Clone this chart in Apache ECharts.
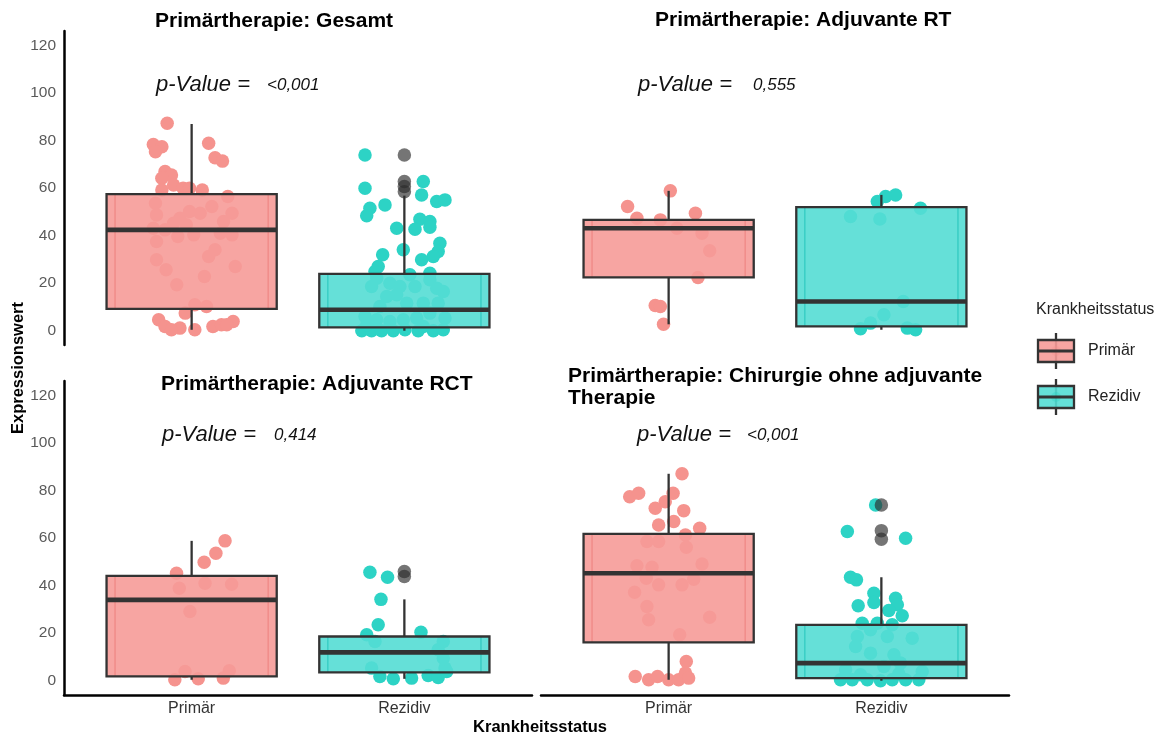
<!DOCTYPE html>
<html>
<head>
<meta charset="utf-8">
<script src="https://cdn.jsdelivr.net/npm/echarts@6/dist/echarts.min.js"></script>
<style>
  html, body { margin: 0; padding: 0; background: #ffffff; }
  #chart { width: 1164px; height: 736px; }
</style>
</head>
<body>
<div id="chart"></div>
<script>
// ---- categories, titles, ticks -------------------------------------------
const categories = ['Primär', 'Rezidiv'];
const panelTitles = [
  ['Primärtherapie: Gesamt'],
  ['Primärtherapie: Adjuvante RT'],
  ['Primärtherapie: Adjuvante RCT'],
  ['Primärtherapie: Chirurgie ohne adjuvante', 'Therapie']
];
const pValues = ['<0,001', '0,555', '0,414', '<0,001'];
const yTicks = [0, 20, 40, 60, 80, 100, 120];

// ---- box summaries: [lower whisker, Q1, median, Q3, upper whisker] --------
const boxGesamt = [[0.4, 9.2, 42.4, 57.4, 86.9], [0.0, 1.4, 8.8, 23.9, 56.8]];
const boxRT     = [[2.7, 22.4, 43.1, 46.6, 58.8], [0.4, 1.8, 12.3, 52.0, 57.1]];
const boxRCT    = [[0.4, 1.8, 34.0, 44.1, 58.8], [0.8, 3.5, 11.9, 18.6, 34.2]];
const boxChir   = [[0.4, 16.1, 45.2, 61.7, 87.0], [0.0, 1.1, 7.4, 23.5, 43.5]];

// ---- outliers (beyond 1.5 IQR) ---------------------------------------------
const outGesamt = [[], [58.4, 60.6, 62.7, 73.9]];
const outRT     = [[], []];
const outRCT    = [[], [43.8, 45.9]];
const outChir   = [[], [59.5, 63.1, 73.9]];

// ---- observations: [horizontal jitter, Expressionswert] ---------------------
const gesamtPrimaer = [
  [-0.115, 87.2], [-0.18, 78.3], [-0.14, 77.3], [-0.17, 75.2], [0.08, 78.8], [0.11, 72.7],
  [0.145, 71.3], [-0.125, 66.9], [-0.095, 65.5], [-0.14, 64.1], [-0.085, 61.3], [-0.14, 59.2],
  [-0.04, 59.9], [-0.01, 59.9], [0.05, 59.2], [0.17, 56.4], [-0.17, 53.6], [0.095, 52.2],
  [-0.165, 48.7], [-0.01, 50.1], [0.04, 49.4], [-0.055, 47.3], [0.19, 49.4], [0.15, 45.9],
  [-0.085, 45.2], [-0.025, 44.5], [-0.18, 43.1], [-0.125, 42.4], [-0.065, 39.6], [0.01, 40.3],
  [0.135, 41.0], [0.19, 40.3], [-0.165, 37.5], [0.08, 31.2], [0.11, 34.0], [-0.165, 29.8],
  [-0.12, 25.6], [0.205, 27.0], [0.06, 22.8], [-0.07, 19.3], [0.015, 10.9], [0.07, 10.2],
  [-0.03, 7.4], [-0.155, 4.6], [-0.125, 1.8], [-0.055, 1.1], [-0.095, 0.4], [0.015, 0.4],
  [0.1, 1.8], [0.14, 2.5], [0.195, 3.9], [0.165, 2.5]
];
const gesamtRezidiv = [
  [-0.185, 73.9], [-0.185, 59.9], [0.089, 62.7], [0.081, 57.1], [0.152, 54.3], [0.191, 55.0],
  [-0.091, 52.9], [-0.162, 51.5], [-0.177, 48.3], [0.073, 46.9], [0.12, 45.9], [0.05, 42.7],
  [-0.036, 43.1], [0.12, 43.5], [0.167, 36.8], [0.159, 33.3], [0.136, 31.2], [-0.005, 34.0],
  [-0.102, 31.9], [0.081, 29.8], [-0.123, 27.0], [-0.138, 24.9], [0.12, 24.2], [-0.13, 22.1],
  [0.12, 21.4], [0.026, 23.5], [-0.154, 18.6], [-0.068, 20.0], [-0.021, 18.6], [0.05, 18.6],
  [0.152, 17.9], [0.183, 16.5], [-0.083, 14.4], [-0.036, 15.1], [-0.115, 10.2], [0.011, 11.6],
  [0.089, 11.6], [0.159, 11.6], [-0.185, 6.0], [-0.13, 4.6], [-0.068, 3.9], [-0.005, 4.6],
  [0.058, 5.3], [0.12, 7.4], [0.191, 5.3], [-0.2, 0.0], [-0.154, 0.0], [-0.107, 0.0],
  [-0.052, 0.0], [0.003, 0.4], [0.065, 0.0], [0.136, 0.0], [0.183, 0.4], [-0.177, 2.5],
  [0.089, 1.8]
];
const rtPrimaer = [
  [0.008, 58.8], [-0.193, 52.2], [-0.149, 47.3], [-0.039, 46.6], [0.126, 49.4], [0.039, 43.1],
  [0.157, 41.0], [0.193, 33.6], [0.138, 22.4], [-0.063, 10.6], [-0.039, 10.2], [-0.024, 2.7]
];
const rtRezidiv = [
  [-0.019, 54.3], [0.02, 56.4], [0.067, 57.1], [0.184, 51.5], [-0.145, 48.0], [-0.007, 47.0],
  [0.103, 12.3], [0.012, 6.7], [-0.098, 0.8], [-0.051, 3.2], [0.122, 1.1], [0.161, 0.4]
];
const rctPrimaer = [
  [0.157, 58.8], [0.114, 53.6], [0.059, 49.8], [-0.071, 45.2], [-0.058, 38.9], [0.063, 41.0],
  [0.188, 40.6], [-0.008, 29.1], [-0.031, 3.9], [-0.079, 0.4], [0.031, 0.8], [0.149, 1.1],
  [0.177, 4.2]
];
const rctRezidiv = [
  [-0.162, 45.6], [-0.079, 43.5], [-0.11, 34.2], [-0.123, 23.5], [-0.177, 19.3], [-0.138, 16.5],
  [0.078, 20.4], [0.183, 16.5], [0.159, 13.0], [0.183, 9.5], [0.191, 5.3], [-0.154, 5.3],
  [-0.115, 1.8], [-0.052, 0.8], [0.034, 1.1], [0.112, 2.2], [0.159, 1.4], [0.199, 3.9]
];
const chirPrimaer = [
  [0.063, 87.0], [-0.183, 77.3], [-0.141, 78.8], [0.021, 78.8], [-0.016, 75.2], [-0.063, 72.5],
  [0.071, 71.5], [0.024, 66.9], [-0.047, 65.5], [0.146, 64.1], [0.079, 61.3], [-0.102, 58.5],
  [-0.047, 58.5], [0.083, 56.1], [0.157, 49.1], [-0.149, 48.3], [-0.078, 47.7], [-0.105, 43.1],
  [-0.047, 40.3], [0.063, 40.3], [0.118, 42.7], [-0.16, 37.2], [-0.102, 31.2], [-0.094, 25.6],
  [0.193, 26.7], [0.052, 19.3], [0.083, 8.1], [-0.157, 1.8], [-0.094, 0.4], [-0.052, 1.8],
  [0.0, 0.4], [0.047, 0.4], [0.079, 3.2], [0.094, 1.1]
];
const chirRezidiv = [
  [-0.027, 73.9], [-0.16, 62.7], [0.114, 59.9], [-0.145, 43.5], [-0.117, 42.4], [-0.035, 36.8],
  [0.067, 34.7], [0.075, 31.9], [-0.109, 31.5], [-0.035, 32.9], [0.035, 29.5], [0.098, 27.3],
  [-0.09, 24.2], [-0.019, 24.2], [0.051, 23.5], [0.145, 17.9], [-0.113, 18.6], [-0.121, 14.4],
  [-0.051, 11.6], [0.059, 10.9], [-0.168, 4.6], [0.012, 6.0], [0.09, 7.4], [-0.192, 0.4],
  [-0.137, 0.4], [-0.066, 0.4], [-0.004, 0.0], [0.051, 0.4], [0.114, 0.4], [0.176, 0.4],
  [0.192, 3.9], [-0.098, 2.5], [0.082, 2.9], [-0.051, 21.4], [0.028, 18.6]
];

// ---- styling -------------------------------------------------------------
const pointColor = ['#F5938E', '#2DD3C5'];
const boxFill = ['rgba(246,155,152,0.9)', 'rgba(84,221,212,0.9)'];
const innerLine = ['rgba(236,120,116,0.5)', 'rgba(20,190,180,0.5)'];
const dark = '#333333';
const pointSize = 13.5;

const panels = [
  { box: boxGesamt, out: outGesamt, pts: [gesamtPrimaer, gesamtRezidiv], left: 64,  top: 31,  yAxis: true,  xAxis: false },
  { box: boxRT,     out: outRT,     pts: [rtPrimaer, rtRezidiv],         left: 541, top: 31,  yAxis: false, xAxis: false },
  { box: boxRCT,    out: outRCT,    pts: [rctPrimaer, rctRezidiv],       left: 64,  top: 381, yAxis: true,  xAxis: true },
  { box: boxChir,   out: outChir,   pts: [chirPrimaer, chirRezidiv],     left: 541, top: 381, yAxis: false, xAxis: true }
];

function renderBox(params, api) {
  const x = api.value(0);
  const lo = api.coord([x, api.value(1)]);
  const q1 = api.coord([x, api.value(2)]);
  const md = api.coord([x, api.value(3)]);
  const q3 = api.coord([x, api.value(4)]);
  const hi = api.coord([x, api.value(5)]);
  const cx = lo[0];
  const w = api.size([0.8, 0])[0];
  const wi = api.size([0.72, 0])[0];
  const k = params.dataIndex;
  const lw = 2.3;
  return {
    type: 'group',
    children: [
      { type: 'line', shape: { x1: cx, y1: q3[1], x2: cx, y2: hi[1] }, style: { stroke: dark, lineWidth: lw } },
      { type: 'line', shape: { x1: cx, y1: q1[1], x2: cx, y2: lo[1] }, style: { stroke: dark, lineWidth: lw } },
      { type: 'rect', shape: { x: cx - w / 2, y: q3[1], width: w, height: q1[1] - q3[1] },
        style: { fill: boxFill[k], stroke: null } },
      { type: 'line', shape: { x1: cx - wi / 2, y1: q3[1], x2: cx - wi / 2, y2: q1[1] }, style: { stroke: innerLine[k], lineWidth: 1.6 } },
      { type: 'line', shape: { x1: cx + wi / 2, y1: q3[1], x2: cx + wi / 2, y2: q1[1] }, style: { stroke: innerLine[k], lineWidth: 1.6 } },
      { type: 'rect', shape: { x: cx - w / 2, y: q3[1], width: w, height: q1[1] - q3[1] },
        style: { fill: null, stroke: dark, lineWidth: lw } },
      { type: 'line', shape: { x1: cx - w / 2, y1: md[1], x2: cx + w / 2, y2: md[1] }, style: { stroke: dark, lineWidth: 4.6 } }
    ]
  };
}

const grid = [], xAxis = [], yAxis = [], series = [];
panels.forEach((p, i) => {
  grid.push({ left: p.left, top: p.top, width: 468, height: 314 });
  xAxis.push({
    type: 'value', gridIndex: i, min: 0.4, max: 2.6,
    axisLine: { show: p.xAxis, onZero: false, lineStyle: { color: '#000', width: 2.5 } },
    axisTick: { show: false }, splitLine: { show: false },
    axisLabel: {
      show: p.xAxis, customValues: [1, 2], margin: 6,
      formatter: v => categories[Math.round(v) - 1] || '',
      color: '#333', fontSize: 16, fontFamily: 'Liberation Sans, Arial, sans-serif'
    }
  });
  yAxis.push({
    type: 'value', gridIndex: i, min: -6, max: 126,
    axisLine: { show: p.yAxis, onZero: false, lineStyle: { color: '#000', width: 2.5 } },
    axisTick: { show: false }, splitLine: { show: false },
    axisLabel: {
      show: p.yAxis, customValues: yTicks, margin: 8,
      color: '#5a5a5a', fontSize: 15.5, fontFamily: 'Liberation Sans, Arial, sans-serif'
    }
  });
  p.pts.forEach((grp, k) => {
    series.push({
      type: 'scatter', xAxisIndex: i, yAxisIndex: i, z: 2, silent: true,
      symbolSize: pointSize,
      itemStyle: { color: pointColor[k], opacity: 1 },
      data: grp.map(([j, v]) => [k + 1 + j, v])
    });
  });
  series.push({
    type: 'custom', xAxisIndex: i, yAxisIndex: i, z: 3, silent: true,
    renderItem: renderBox,
    encode: { x: 0, y: [1, 2, 3, 4, 5] },
    data: p.box.map((b, k) => [k + 1].concat(b))
  });
  const outs = [];
  p.out.forEach((vals, k) => vals.forEach(v => outs.push([k + 1, v])));
  series.push({
    type: 'scatter', xAxisIndex: i, yAxisIndex: i, z: 4, silent: true,
    symbolSize: pointSize,
    itemStyle: { color: 'rgba(45,45,45,0.82)' },
    data: outs
  });
});

// ---- texts: panel titles, p-values, axis titles, legend ------------------
const font = 'Liberation Sans, Arial, sans-serif';
const graphic = [];
const titlePos = [[155, [21]], [655, [20]], [161, [384]], [568, [376, 398]]];
panelTitles.forEach((lines, i) => {
  lines.forEach((t, li) => {
    graphic.push({ type: 'text', x: titlePos[i][0], y: titlePos[i][1][li],
      style: { text: t, font: 'bold 21px ' + font, fill: '#000', textVerticalAlign: 'middle' } });
  });
});
const pPos = [[156, 267, 85], [638, 753, 85], [162, 274, 435], [637, 747, 435]];
pValues.forEach((pv, i) => {
  const [xl, xv, yc] = pPos[i];
  graphic.push({ type: 'text', x: xl, y: yc,
    style: { text: 'p-Value =', font: 'italic 22px ' + font, fill: '#111', textVerticalAlign: 'middle' } });
  graphic.push({ type: 'text', x: xv, y: yc,
    style: { text: pv, font: 'italic 17px ' + font, fill: '#111', textVerticalAlign: 'middle' } });
});
graphic.push({ type: 'text', x: 18, y: 368, rotation: Math.PI / 2,
  style: { text: 'Expressionswert', font: 'bold 16.5px ' + font, fill: '#000',
    textAlign: 'center', textVerticalAlign: 'middle' } });
graphic.push({ type: 'text', x: 540, y: 727,
  style: { text: 'Krankheitsstatus', font: 'bold 16.5px ' + font, fill: '#000',
    textAlign: 'center', textVerticalAlign: 'middle' } });

// legend
graphic.push({ type: 'text', x: 1036, y: 310,
  style: { text: 'Krankheitsstatus', font: '16px ' + font, fill: '#222', textVerticalAlign: 'middle' } });
const legendY = [351, 397];
categories.forEach((c, k) => {
  const yc = legendY[k];
  graphic.push({ type: 'line', shape: { x1: 1056, y1: yc - 18, x2: 1056, y2: yc + 18 },
    style: { stroke: dark, lineWidth: 2.3 } });
  graphic.push({ type: 'rect', shape: { x: 1038, y: yc - 11, width: 36, height: 22 },
    style: { fill: boxFill[k], stroke: dark, lineWidth: 2.3 } });
  graphic.push({ type: 'circle', shape: { cx: 1056, cy: yc, r: 5 },
    style: { fill: pointColor[k], opacity: 0.35 } });
  graphic.push({ type: 'line', shape: { x1: 1038, y1: yc, x2: 1074, y2: yc },
    style: { stroke: dark, lineWidth: 3 } });
  graphic.push({ type: 'text', x: 1088, y: yc,
    style: { text: c, font: '16px ' + font, fill: '#222', textVerticalAlign: 'middle' } });
});

const chart = echarts.init(document.getElementById('chart'), null, { renderer: 'canvas' });
chart.setOption({
  backgroundColor: '#ffffff',
  animation: false,
  grid, xAxis, yAxis, series, graphic
});
</script>
</body>
</html>
